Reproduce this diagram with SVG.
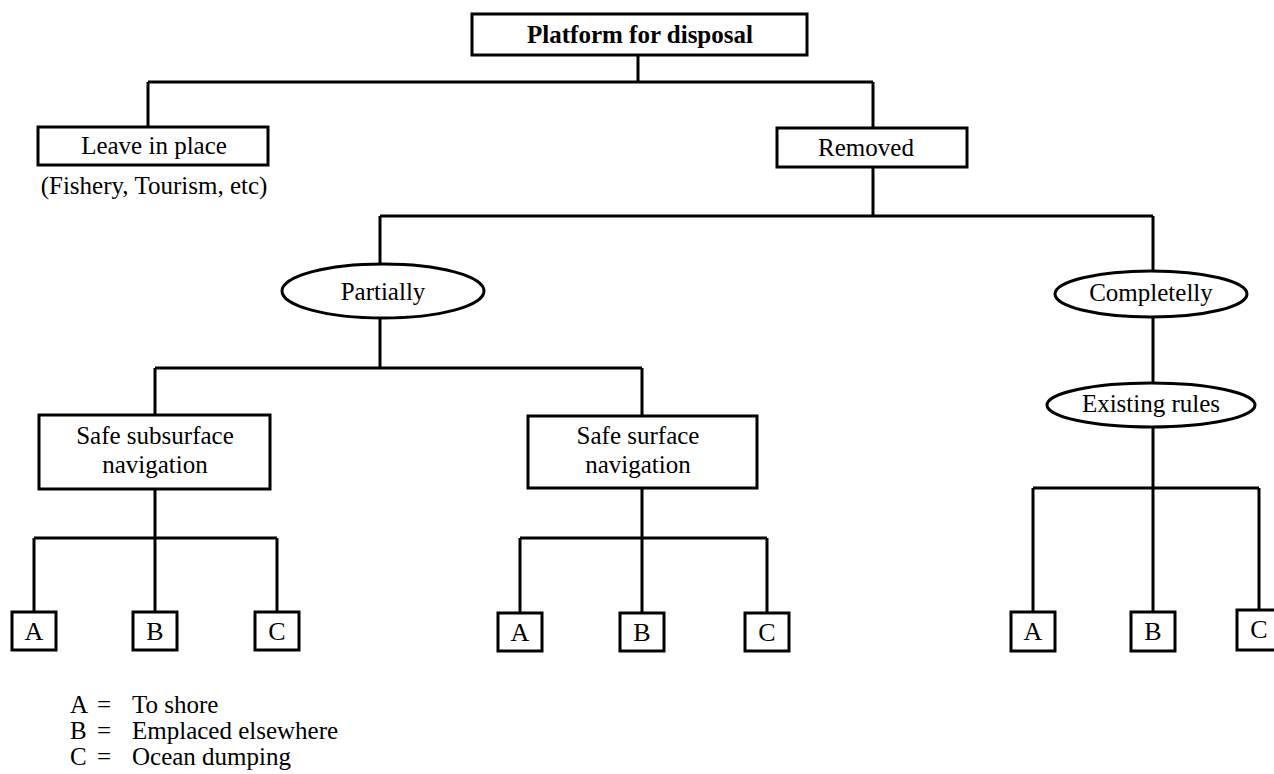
<svg xmlns="http://www.w3.org/2000/svg" width="1274" height="774" viewBox="0 0 1274 774">
<style>
.box{fill:#fff;stroke:#000;stroke-width:3}
.ell{fill:#fff;stroke:#000;stroke-width:3}
.ln{fill:none;stroke:#000;stroke-width:3}
text{font-family:"Liberation Serif","Times New Roman",serif;font-size:25px;fill:#000}
.c{text-anchor:middle}
.b{font-weight:bold}
.lt{font-size:26px}
</style>
<rect width="1274" height="774" fill="#fff"/>
<g id="connectors">
<path class="ln" d="M638,55 V82 M148,82 H873 M148,82 V127 M873,82 V128 M873,167 V216 M380,216 H1153 M380,216 V264 M1153,216 V271"/>
<path class="ln" d="M380,319 V368 M155,368 H642 M155,368 V415 M642,368 V416"/>
<path class="ln" d="M155,489 V612 M34,538 H277 M34,538 V612 M277,538 V612"/>
<path class="ln" d="M642,488 V612 M520,538 H767 M520,538 V612 M767,538 V612"/>
<path class="ln" d="M1153,317 V383 M1153,428 V612 M1033,488 H1259 M1033,488 V612 M1259,488 V610"/>
</g>
<g id="platform"><rect class="box" x="472" y="14" width="335" height="41"/><text class="c b" x="640" y="43">Platform for disposal</text></g>
<g id="leave"><rect class="box" x="38" y="127" width="230" height="38"/><text class="c" x="154" y="154">Leave in place</text><text class="c" x="154" y="194">(Fishery, Tourism, etc)</text></g>
<g id="removed"><rect class="box" x="777" y="128" width="190" height="39"/><text class="c" x="866" y="156">Removed</text></g>
<g id="partially"><ellipse class="ell" cx="383" cy="291" rx="101" ry="27"/><text class="c" x="383" y="300">Partially</text></g>
<g id="completelly"><ellipse class="ell" cx="1151" cy="294" rx="96" ry="23"/><text class="c" x="1151" y="301">Completelly</text></g>
<g id="existing"><ellipse class="ell" cx="1151" cy="405" rx="104" ry="22"/><text class="c" x="1151" y="412">Existing rules</text></g>
<g id="subsurface"><rect class="box" x="39" y="415" width="231" height="74"/><text class="c" x="155" y="444">Safe subsurface</text><text class="c" x="155" y="473">navigation</text></g>
<g id="surface"><rect class="box" x="528" y="416" width="229" height="72"/><text class="c" x="638" y="444">Safe surface</text><text class="c" x="638" y="473">navigation</text></g>
<g id="l-a"><rect class="box" x="12" y="612" width="44" height="38"/><text class="c lt" x="34" y="640">A</text></g>
<g id="l-b"><rect class="box" x="133" y="612" width="44" height="38"/><text class="c lt" x="155" y="640">B</text></g>
<g id="l-c"><rect class="box" x="255" y="612" width="44" height="38"/><text class="c lt" x="277" y="640">C</text></g>
<g id="m-a"><rect class="box" x="498" y="613" width="44" height="38"/><text class="c lt" x="520" y="641">A</text></g>
<g id="m-b"><rect class="box" x="620" y="613" width="44" height="38"/><text class="c lt" x="642" y="641">B</text></g>
<g id="m-c"><rect class="box" x="745" y="613" width="44" height="38"/><text class="c lt" x="767" y="641">C</text></g>
<g id="r-a"><rect class="box" x="1011" y="612" width="44" height="39"/><text class="c lt" x="1033" y="640">A</text></g>
<g id="r-b"><rect class="box" x="1131" y="612" width="44" height="39"/><text class="c lt" x="1153" y="640">B</text></g>
<g id="r-c"><rect class="box" x="1237" y="610" width="44" height="40"/><text class="c lt" x="1259" y="638">C</text></g>
<g id="legend">
<text x="70" y="713">A</text><text x="97" y="713">=</text><text x="132" y="713">To shore</text>
<text x="70" y="739">B</text><text x="97" y="739">=</text><text x="132" y="739">Emplaced elsewhere</text>
<text x="70" y="765">C</text><text x="97" y="765">=</text><text x="132" y="765">Ocean dumping</text>
</g>
</svg>
